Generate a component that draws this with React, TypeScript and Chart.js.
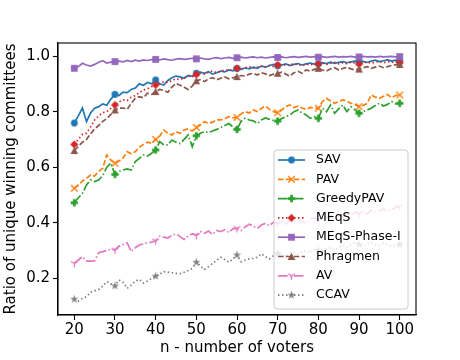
import React, { useEffect, useRef } from 'react';
import { Chart, registerables } from 'chart.js';

Chart.register(...registerables);

const voters = [
  20, 21, 22, 23, 24, 25, 26, 27, 28, 29, 30, 31, 32, 33, 34, 35, 36, 37, 38, 39,
  40, 41, 42, 43, 44, 45, 46, 47, 48, 49, 50, 51, 52, 53, 54, 55, 56, 57, 58, 59,
  60, 61, 62, 63, 64, 65, 66, 67, 68, 69, 70, 71, 72, 73, 74, 75, 76, 77, 78, 79,
  80, 81, 82, 83, 84, 85, 86, 87, 88, 89, 90, 91, 92, 93, 94, 95, 96, 97, 98, 99, 100,
];

const sav = [
  0.759, 0.785, 0.813, 0.764, 0.795, 0.812, 0.818, 0.828, 0.823, 0.845,
  0.862, 0.858, 0.870, 0.868, 0.880, 0.885, 0.900, 0.895, 0.905, 0.900,
  0.914, 0.900, 0.896, 0.912, 0.922, 0.928, 0.925, 0.920, 0.930, 0.927,
  0.938, 0.942, 0.938, 0.944, 0.935, 0.940, 0.946, 0.943, 0.950, 0.947,
  0.955, 0.952, 0.957, 0.954, 0.960, 0.956, 0.964, 0.960, 0.966, 0.970,
  0.965, 0.968, 0.972, 0.966, 0.970, 0.973, 0.968, 0.972, 0.975, 0.971,
  0.972, 0.976, 0.973, 0.978, 0.974, 0.977, 0.980, 0.976, 0.979, 0.982,
  0.978, 0.981, 0.977, 0.982, 0.985, 0.980, 0.983, 0.986, 0.982, 0.985, 0.982,
];

const pav = [
  0.524, 0.535, 0.550, 0.560, 0.572, 0.568, 0.585, 0.596, 0.644, 0.625,
  0.614, 0.622, 0.633, 0.656, 0.648, 0.656, 0.672, 0.682, 0.690, 0.686,
  0.700, 0.712, 0.734, 0.722, 0.716, 0.728, 0.722, 0.734, 0.738, 0.730,
  0.743, 0.752, 0.764, 0.758, 0.762, 0.770, 0.770, 0.775, 0.782, 0.778,
  0.779, 0.792, 0.800, 0.795, 0.806, 0.800, 0.812, 0.820, 0.808, 0.800,
  0.796, 0.806, 0.818, 0.824, 0.815, 0.820, 0.813, 0.808, 0.815, 0.812,
  0.812, 0.836, 0.848, 0.838, 0.830, 0.836, 0.842, 0.838, 0.830, 0.825,
  0.818, 0.822, 0.830, 0.860, 0.852, 0.848, 0.855, 0.862, 0.850, 0.858, 0.860,
];

const greedyPav = [
  0.472, 0.490, 0.505, 0.536, 0.554, 0.548, 0.554, 0.570, 0.600, 0.615,
  0.574, 0.585, 0.590, 0.594, 0.590, 0.620, 0.632, 0.644, 0.640, 0.650,
  0.662, 0.692, 0.680, 0.680, 0.698, 0.690, 0.685, 0.700, 0.716, 0.674,
  0.713, 0.722, 0.728, 0.725, 0.730, 0.736, 0.743, 0.750, 0.757, 0.745,
  0.736, 0.765, 0.776, 0.770, 0.767, 0.757, 0.770, 0.777, 0.772, 0.768,
  0.766, 0.775, 0.782, 0.788, 0.800, 0.806, 0.795, 0.788, 0.776, 0.782,
  0.776, 0.812, 0.800, 0.824, 0.794, 0.810, 0.824, 0.800, 0.818, 0.806,
  0.794, 0.800, 0.806, 0.812, 0.822, 0.830, 0.820, 0.826, 0.836, 0.828, 0.830,
];

const meqs = [
  0.682, 0.700, 0.718, 0.722, 0.745, 0.770, 0.785, 0.796, 0.800, 0.812,
  0.824, 0.835, 0.842, 0.840, 0.852, 0.858, 0.868, 0.878, 0.882, 0.890,
  0.896, 0.900, 0.908, 0.905, 0.912, 0.918, 0.915, 0.922, 0.928, 0.925,
  0.934, 0.938, 0.935, 0.942, 0.946, 0.940, 0.945, 0.950, 0.948, 0.952,
  0.956, 0.954, 0.958, 0.962, 0.957, 0.960, 0.964, 0.960, 0.966, 0.963,
  0.968, 0.965, 0.970, 0.967, 0.972, 0.969, 0.966, 0.971, 0.968, 0.973,
  0.971, 0.975, 0.970, 0.974, 0.977, 0.972, 0.976, 0.973, 0.978, 0.975,
  0.971, 0.976, 0.979, 0.974, 0.978, 0.981, 0.976, 0.980, 0.977, 0.981, 0.976,
];

const meqsPhaseI = [
  0.956, 0.962, 0.974, 0.968, 0.964, 0.970, 0.978, 0.983, 0.975, 0.978,
  0.980, 0.982, 0.979, 0.984, 0.980, 0.985, 0.982, 0.986, 0.984, 0.987,
  0.988, 0.986, 0.990, 0.987, 0.985, 0.989, 0.991, 0.988, 0.990, 0.992,
  0.990, 0.993, 0.990, 0.988, 0.992, 0.994, 0.991, 0.993, 0.995, 0.992,
  0.994, 0.996, 0.993, 0.995, 0.997, 0.994, 0.996, 0.993, 0.995, 0.997,
  0.995, 0.997, 0.994, 0.996, 0.998, 0.995, 0.997, 0.999, 0.996, 0.998,
  0.996, 0.998, 0.995, 0.997, 0.999, 0.996, 0.998, 0.997, 0.999, 0.996,
  0.997, 0.999, 0.997, 0.998, 0.996, 0.999, 0.997, 0.998, 0.999, 0.997, 0.998,
];

const phragmen = [
  0.660, 0.675, 0.690, 0.700, 0.720, 0.738, 0.750, 0.765, 0.775, 0.790,
  0.806, 0.812, 0.813, 0.808, 0.830, 0.848, 0.854, 0.850, 0.866, 0.862,
  0.872, 0.880, 0.876, 0.870, 0.888, 0.902, 0.895, 0.888, 0.880, 0.892,
  0.911, 0.915, 0.908, 0.918, 0.922, 0.915, 0.920, 0.925, 0.918, 0.922,
  0.926, 0.930, 0.928, 0.935, 0.938, 0.932, 0.940, 0.936, 0.930, 0.935,
  0.938, 0.942, 0.935, 0.928, 0.940, 0.945, 0.938, 0.950, 0.946, 0.952,
  0.956, 0.950, 0.946, 0.954, 0.958, 0.950, 0.955, 0.960, 0.954, 0.950,
  0.953, 0.958, 0.962, 0.956, 0.960, 0.964, 0.958, 0.962, 0.966, 0.968, 0.970,
];

const av = [
  0.254, 0.266, 0.278, 0.263, 0.262, 0.263, 0.292, 0.296, 0.300, 0.305,
  0.302, 0.316, 0.322, 0.328, 0.296, 0.310, 0.320, 0.324, 0.328, 0.330,
  0.335, 0.352, 0.348, 0.345, 0.355, 0.360, 0.350, 0.340, 0.352, 0.360,
  0.355, 0.368, 0.362, 0.370, 0.358, 0.372, 0.368, 0.375, 0.365, 0.378,
  0.380, 0.372, 0.385, 0.395, 0.388, 0.380, 0.392, 0.398, 0.390, 0.402,
  0.398, 0.405, 0.395, 0.410, 0.402, 0.412, 0.405, 0.398, 0.412, 0.418,
  0.410, 0.420, 0.415, 0.425, 0.418, 0.428, 0.420, 0.432, 0.425, 0.438,
  0.432, 0.440, 0.430, 0.445, 0.438, 0.442, 0.450, 0.440, 0.448, 0.455, 0.458,
];

const ccav = [
  0.125, 0.118, 0.128, 0.134, 0.150, 0.155, 0.160, 0.172, 0.188, 0.180,
  0.173, 0.194, 0.186, 0.164, 0.176, 0.190, 0.196, 0.183, 0.190, 0.200,
  0.208, 0.215, 0.224, 0.222, 0.220, 0.218, 0.217, 0.222, 0.228, 0.236,
  0.258, 0.245, 0.232, 0.242, 0.254, 0.265, 0.276, 0.268, 0.258, 0.270,
  0.284, 0.260, 0.265, 0.270, 0.272, 0.276, 0.288, 0.278, 0.270, 0.282,
  0.290, 0.285, 0.278, 0.292, 0.295, 0.288, 0.296, 0.300, 0.292, 0.305,
  0.300, 0.298, 0.306, 0.310, 0.302, 0.312, 0.318, 0.310, 0.322, 0.328,
  0.322, 0.315, 0.325, 0.330, 0.322, 0.318, 0.326, 0.322, 0.315, 0.320, 0.322,
];

const seriesNames = ['SAV', 'PAV', 'GreedyPAV', 'MEqS', 'MEqS-Phase-I', 'Phragmen', 'AV', 'CCAV'];
const seriesValues = [sav, pav, greedyPav, meqs, meqsPhaseI, phragmen, av, ccav];
const seriesColors = ['#1f77b4', '#ff7f0e', '#2ca02c', '#d62728', '#9467bd', '#8c564b', '#e377c2', '#7f7f7f'];
const seriesMarkers = ['o', 'x', 'P', 'D', 's', '^', '1', '*'];
const seriesDashes: number[][] = [
  [],
  [5.5, 2.4],
  [9.6, 2.4, 1.5, 2.4],
  [1.5, 2.5],
  [],
  [5.5, 2.4],
  [9.6, 2.4, 1.5, 2.4],
  [1.5, 2.5],
];

const xTicks = [20, 30, 40, 50, 60, 70, 80, 90, 100];
const yTicks = [0.2, 0.4, 0.6, 0.8, 1.0];
const xTitle = 'n - number of voters';
const yTitle = 'Ratio of unique winning committees';

const FONT = "'DejaVu Sans', sans-serif";
const LINE_W = 1.7;

function makeMarker(kind: string, color: string): HTMLCanvasElement {
  const S = 13;
  const c = document.createElement('canvas');
  c.width = S;
  c.height = S;
  const g = c.getContext('2d')!;
  const m = S / 2;
  g.fillStyle = color;
  g.strokeStyle = color;
  g.beginPath();
  switch (kind) {
    case 'o':
      g.arc(m, m, 3.4, 0, Math.PI * 2);
      g.fill();
      break;
    case 'x':
      g.lineWidth = 1.4;
      g.moveTo(m - 3.3, m - 3.3);
      g.lineTo(m + 3.3, m + 3.3);
      g.moveTo(m - 3.3, m + 3.3);
      g.lineTo(m + 3.3, m - 3.3);
      g.stroke();
      break;
    case 'P':
      g.fillRect(m - 3.7, m - 1.35, 7.4, 2.7);
      g.fillRect(m - 1.35, m - 3.7, 2.7, 7.4);
      break;
    case 'D':
      g.moveTo(m, m - 4.0);
      g.lineTo(m + 4.0, m);
      g.lineTo(m, m + 4.0);
      g.lineTo(m - 4.0, m);
      g.closePath();
      g.fill();
      break;
    case 's':
      g.fillRect(m - 3.4, m - 3.4, 6.8, 6.8);
      break;
    case '^':
      g.moveTo(m, m - 3.8);
      g.lineTo(m + 3.8, m + 3.6);
      g.lineTo(m - 3.8, m + 3.6);
      g.closePath();
      g.fill();
      break;
    case '1':
      g.lineWidth = 1.3;
      g.moveTo(m, m);
      g.lineTo(m, m + 4);
      g.moveTo(m, m);
      g.lineTo(m - 3.5, m - 2);
      g.moveTo(m, m);
      g.lineTo(m + 3.5, m - 2);
      g.stroke();
      break;
    case '*': {
      const R = 4.4;
      const r = R * 0.382;
      for (let k = 0; k < 10; k++) {
        const rad = k % 2 === 0 ? R : r;
        const ang = -Math.PI / 2 + (k * Math.PI) / 5;
        const px = m + rad * Math.cos(ang);
        const py = m + rad * Math.sin(ang);
        if (k === 0) g.moveTo(px, py);
        else g.lineTo(px, py);
      }
      g.closePath();
      g.fill();
      break;
    }
  }
  return c;
}

const framePlugin = {
  id: 'mplFrameLegend',
  afterDatasetsDraw(chart: any) {
    const { ctx, chartArea: a } = chart;
    ctx.save();
    ctx.strokeStyle = '#000';
    ctx.lineWidth = 1.1;
    ctx.setLineDash([]);
    ctx.strokeRect(a.left, a.top, a.right - a.left, a.bottom - a.top);

    const w = 134;
    const h = 159;
    const x0 = a.right - 8 - w;
    const y0 = a.bottom - 6 - h;
    const rr = 3;
    ctx.beginPath();
    ctx.moveTo(x0 + rr, y0);
    ctx.lineTo(x0 + w - rr, y0);
    ctx.quadraticCurveTo(x0 + w, y0, x0 + w, y0 + rr);
    ctx.lineTo(x0 + w, y0 + h - rr);
    ctx.quadraticCurveTo(x0 + w, y0 + h, x0 + w - rr, y0 + h);
    ctx.lineTo(x0 + rr, y0 + h);
    ctx.quadraticCurveTo(x0, y0 + h, x0, y0 + h - rr);
    ctx.lineTo(x0, y0 + rr);
    ctx.quadraticCurveTo(x0, y0, x0 + rr, y0);
    ctx.closePath();
    ctx.fillStyle = 'rgba(255,255,255,0.8)';
    ctx.fill();
    ctx.strokeStyle = '#cccccc';
    ctx.lineWidth = 1;
    ctx.stroke();

    chart.data.datasets.forEach((ds: any, i: number) => {
      const yy = y0 + 10 + i * 19.3;
      ctx.save();
      ctx.strokeStyle = ds.borderColor;
      ctx.lineWidth = LINE_W;
      ctx.setLineDash(ds.borderDash || []);
      ctx.beginPath();
      ctx.moveTo(x0 + 4, yy);
      ctx.lineTo(x0 + 31, yy);
      ctx.stroke();
      ctx.restore();
      const img = ds.pointStyle as HTMLCanvasElement;
      ctx.drawImage(img, x0 + 17.5 - img.width / 2, yy - img.height / 2);
      ctx.fillStyle = '#000';
      ctx.font = `12.5px ${FONT}`;
      ctx.textAlign = 'left';
      ctx.textBaseline = 'middle';
      ctx.fillText(ds.label, x0 + 42, yy);
    });
    ctx.restore();
  },
};

export default function App() {
  const ref = useRef<HTMLCanvasElement | null>(null);

  useEffect(() => {
    if (!ref.current) return;
    const datasets = seriesNames.map((name, i) => ({
      label: name,
      data: voters.map((x, j) => ({ x, y: seriesValues[i][j] })),
      borderColor: seriesColors[i],
      backgroundColor: seriesColors[i],
      borderWidth: LINE_W,
      borderDash: seriesDashes[i],
      pointStyle: makeMarker(seriesMarkers[i], seriesColors[i]),
      pointRadius: (c: any) => (voters[c.dataIndex] % 10 === 0 ? 4 : 0),
      pointHoverRadius: 0,
      pointBorderWidth: 0,
      tension: 0,
      fill: false,
      order: -i,
    }));

    const chart = new Chart(ref.current, {
      type: 'line',
      data: { datasets },
      options: {
        animation: false,
        responsive: false,
        devicePixelRatio: 1,
        events: [],
        layout: { padding: { left: 0, top: 43, right: 44, bottom: 0 } },
        plugins: { legend: { display: false }, tooltip: { enabled: false } },
        scales: {
          x: {
            type: 'linear',
            min: 16,
            max: 104,
            afterBuildTicks: (s: any) => {
              s.ticks = xTicks.map((v) => ({ value: v }));
            },
            afterFit: (s: any) => {
              s.height = 45;
            },
            ticks: {
              autoSkip: false,
              maxRotation: 0,
              padding: 1,
              color: '#000',
              font: { family: FONT, size: 15 },
              callback: (v: any) => String(v),
            },
            grid: {
              display: true,
              drawOnChartArea: false,
              drawTicks: true,
              tickLength: 5,
              tickColor: '#000',
              tickWidth: 1.1,
            },
            border: { display: true, color: '#000', width: 1.1 },
            title: {
              display: true,
              text: xTitle,
              color: '#000',
              font: { family: FONT, size: 15 },
              padding: { top: 0, bottom: 3 },
            },
          },
          y: {
            type: 'linear',
            min: 0.068,
            max: 1.047,
            afterBuildTicks: (s: any) => {
              s.ticks = yTicks.map((v) => ({ value: v }));
            },
            afterFit: (s: any) => {
              s.width = 58;
            },
            ticks: {
              padding: 3,
              color: '#000',
              font: { family: FONT, size: 15 },
              callback: (v: any) => Number(v).toFixed(1),
            },
            grid: {
              display: true,
              drawOnChartArea: false,
              drawTicks: true,
              tickLength: 5,
              tickColor: '#000',
              tickWidth: 1.1,
            },
            border: { display: true, color: '#000', width: 1.1 },
            title: {
              display: true,
              text: yTitle,
              color: '#000',
              font: { family: FONT, size: 15 },
              padding: { top: 2, bottom: 0 },
            },
          },
        },
      },
      plugins: [framePlugin],
    } as any);
    return () => chart.destroy();
  }, []);

  return (
    <div style={{ position: 'absolute', left: 0, top: 0, width: 460, height: 360, background: '#fff' }}>
      <canvas ref={ref} width={460} height={360} style={{ width: 460, height: 360, display: 'block' }} />
    </div>
  );
}
